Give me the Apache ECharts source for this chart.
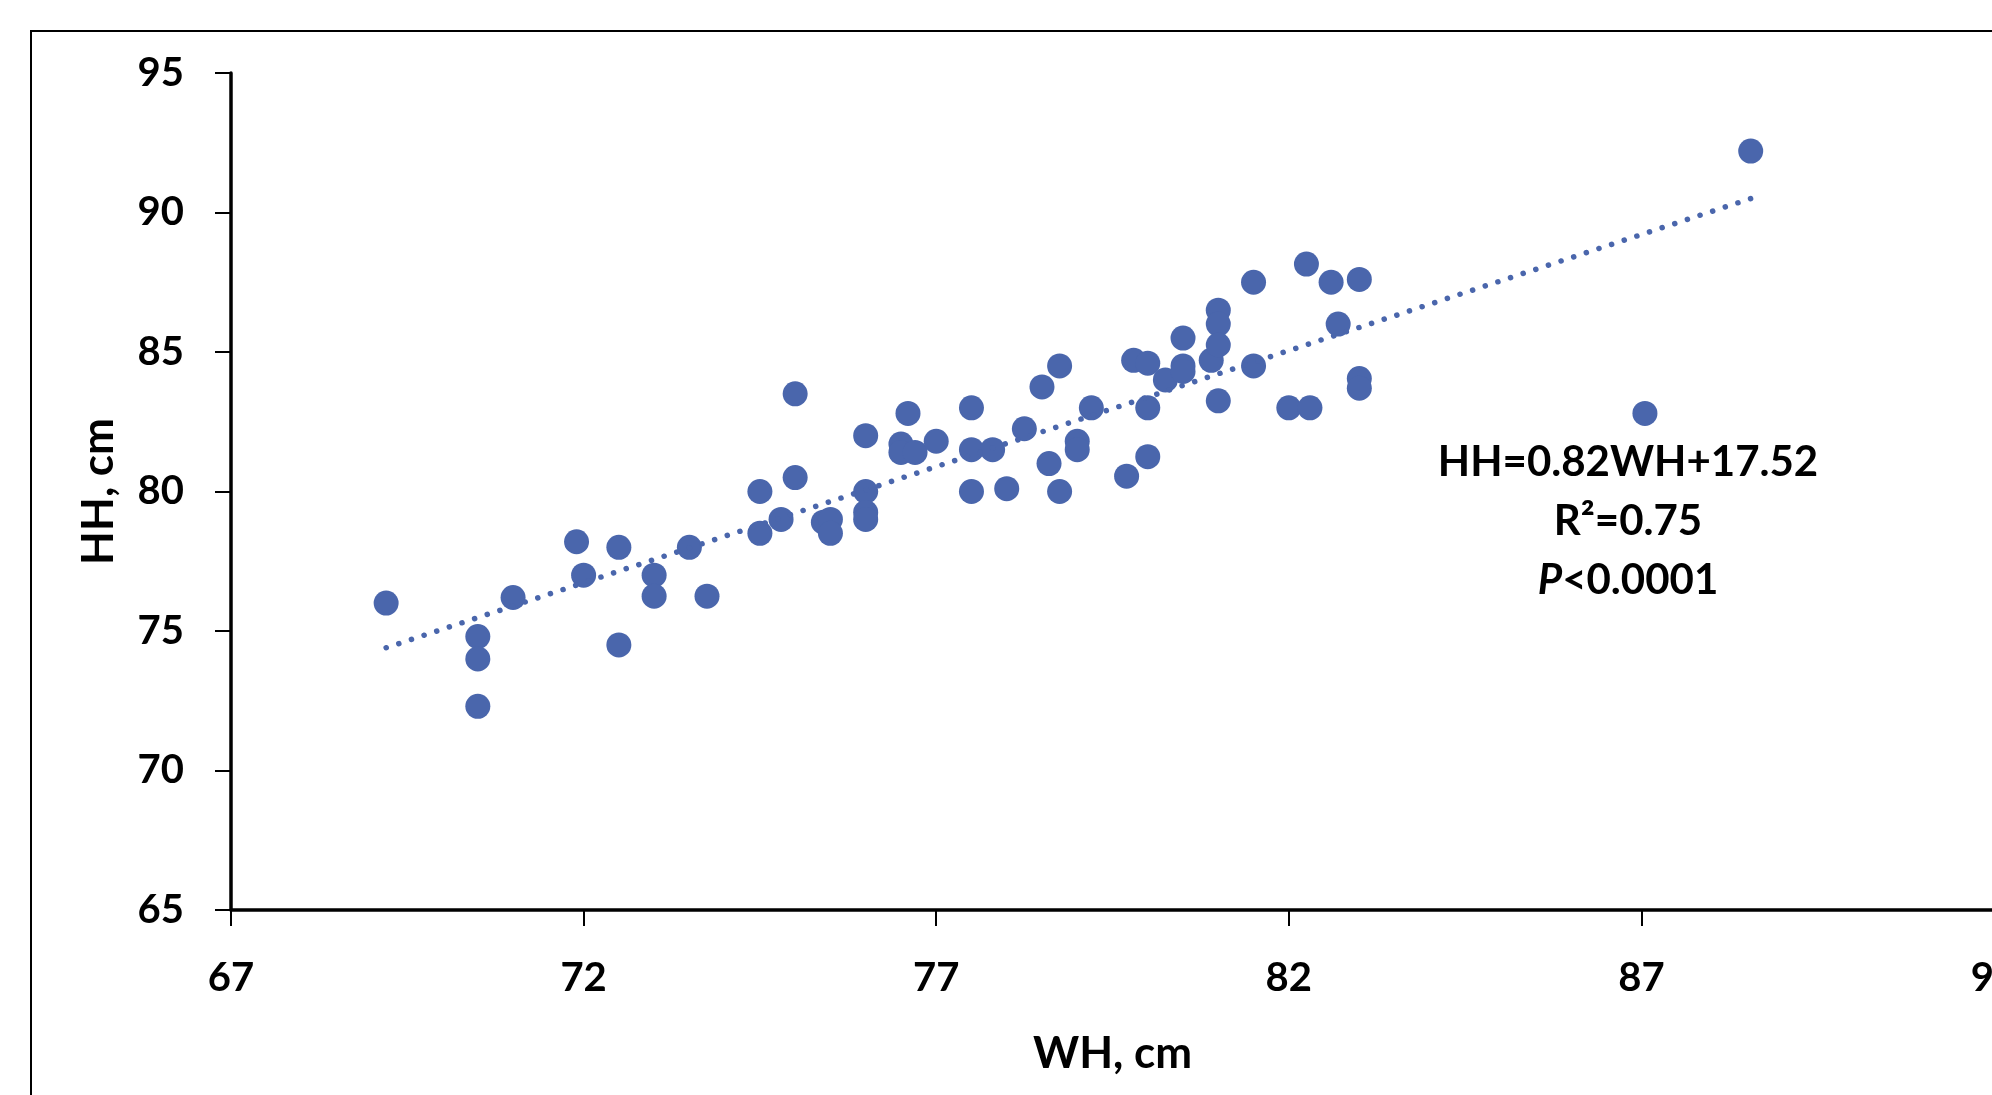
<!DOCTYPE html>
<html>
<head>
<meta charset="utf-8">
<script src="https://cdn.jsdelivr.net/npm/echarts@6/dist/echarts.min.js"></script>
<style>
html,body{margin:0;padding:0;background:#fff;}
#c{width:1992px;height:1095px;}
</style>
</head>
<body>
<div id="c"></div>
<script>
// WH (cm) values of each animal
const whValues = [69.2,70.5,70.5,70.5,71.0,71.9,72.0,72.5,72.5,73.0,73.0,73.5,73.75,74.5,74.5,74.8,75.0,75.0,75.4,75.5,75.5,
  76.0,76.0,76.0,76.0,76.5,76.5,76.6,76.7,77.0,77.5,77.5,77.5,77.8,78.0,78.25,78.5,78.6,78.75,78.75,79.0,79.0,79.2,
  79.7,79.8,80.0,80.0,80.0,80.25,80.5,80.5,80.5,80.9,81.0,81.0,81.0,81.0,81.5,81.5,82.0,82.25,82.3,82.6,82.7,83.0,83.0,83.0,
  87.05,88.55];
// HH (cm) values, same order
const hhValues = [76.0,74.8,74.0,72.3,76.2,78.2,77.0,78.0,74.5,77.0,76.25,78.0,76.25,80.0,78.5,79.0,83.5,80.5,78.9,79.0,78.5,
  82.0,80.0,79.25,79.0,81.7,81.4,82.8,81.4,81.8,83.0,81.5,80.0,81.5,80.1,82.25,83.75,81.0,84.5,80.0,81.8,81.5,83.0,
  80.55,84.7,84.6,83.0,81.25,84.0,85.5,84.5,84.3,84.7,86.5,86.0,85.25,83.25,87.5,84.5,83.0,88.15,83.0,87.5,86.0,87.6,84.05,83.7,
  82.8,92.2];
// Linear trend line endpoints (as drawn)
const trendWH = [69.2, 88.55];
const trendHH = [74.4, 90.5];
// Tick labels
const xTicks = [67,72,77,82,87,92];
const yTicks = [65,70,75,80,85,90,95];
const annotation = ['HH=0.82WH+17.52', 'R²=0.75', '{i|P}<0.0001'];

const scatterData = whValues.map((w,i)=>[w, hhValues[i]]);
const trendData = trendWH.map((w,i)=>[w, trendHH[i]]);

const FONT = 'Lato';
const chart = echarts.init(document.getElementById('c'), null, {renderer:'canvas'});
const axisTextStyle = {color:'#000', fontFamily:FONT, fontWeight:'bold', fontSize:40};
chart.setOption({
  animation:false,
  backgroundColor:'#fff',
  grid:{left:231, right:-2, top:73, bottom:185, containLabel:false, outerBoundsMode:'none'},
  xAxis:{
    type:'value', min:xTicks[0], max:xTicks[xTicks.length-1],
    name:'WH, cm', nameLocation:'middle', nameGap:122,
    nameTextStyle:{color:'#000', fontFamily:FONT, fontWeight:'bold', fontSize:44},
    axisLine:{show:true, onZero:false, lineStyle:{color:'#000', width:3.5}},
    axisTick:{show:true, length:16, lineStyle:{color:'#000', width:2}, customValues:xTicks},
    axisLabel:Object.assign({margin:48, customValues:xTicks, hideOverlap:false}, axisTextStyle),
    splitLine:{show:false}
  },
  yAxis:{
    type:'value', min:yTicks[0], max:yTicks[yTicks.length-1], interval:5,
    name:'HH, cm', nameLocation:'middle', nameGap:110, nameRotate:90,
    nameTextStyle:{color:'#000', fontFamily:FONT, fontWeight:'bold', fontSize:44},
    axisLine:{show:true, onZero:false, lineStyle:{color:'#000', width:3.5}},
    axisTick:{show:true, length:16, lineStyle:{color:'#000', width:2}},
    axisLabel:Object.assign({margin:47}, axisTextStyle),
    splitLine:{show:false}
  },
  series:[
    {
      type:'scatter', data:scatterData, symbol:'circle', symbolSize:25,
      itemStyle:{color:'#4A66AC', opacity:1}, z:2
    },
    {
      type:'line', data:trendData, showSymbol:false, symbol:'none', z:3,
      lineStyle:{color:'#4A66AC', width:5.5, type:[0.1,13.2], cap:'round'}
    }
  ],
  graphic:[
    {type:'rect', shape:{x:31, y:31, width:2100, height:2100}, style:{fill:null, stroke:'#000', lineWidth:2}, silent:true, z:0},
    {type:'text', x:1628, y:462, style:{text:annotation[0], align:'center', verticalAlign:'middle', fill:'#000', font:'bold 42px Lato'}},
    {type:'text', x:1628, y:521, style:{text:annotation[1], align:'center', verticalAlign:'middle', fill:'#000', font:'bold 42px Lato'}},
    {type:'text', x:1628, y:580, style:{text:annotation[2], align:'center', verticalAlign:'middle', fill:'#000', font:'bold 42px Lato',
      rich:{i:{fontStyle:'italic', fontWeight:'bold', fontSize:42, fontFamily:FONT, fill:'#000'}}}}
  ]
});
</script>
</body>
</html>
